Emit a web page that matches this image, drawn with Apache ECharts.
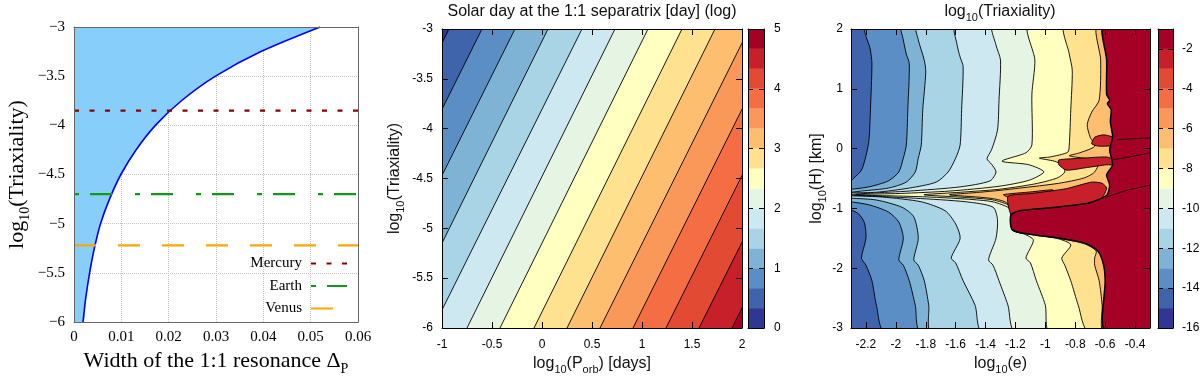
<!DOCTYPE html>
<html>
<head>
<meta charset="utf-8">
<title>Triaxiality and the 1:1 resonance</title>
<script src="https://cdn.jsdelivr.net/npm/echarts@6.0.0/dist/echarts.min.js"></script>
<style>
  html, body { margin: 0; padding: 0; background: #fff; }
  #chart { width: 1200px; height: 380px; }
</style>
</head>
<body>
<div id="chart"></div>
<script>
// left panel: width of the 1:1 resonance against log10(triaxiality)
const resLogTriax = [-6, -5.75, -5.5, -5.25, -5, -4.75, -4.5, -4.25, -4, -3.75, -3.5, -3.25, -3]
const resWidth = [0.0019, 0.0025, 0.0033, 0.0043, 0.0056, 0.0075, 0.0099, 0.0131, 0.0172, 0.0227, 0.0299, 0.0395, 0.052]
const planets = ['Mercury', 'Earth', 'Venus']
const planetLogTriax = [-3.85, -4.7, -5.22]
const planetColors = ['#8b0000', '#119a19', '#ffa500']
const planetDash = [[5, 10.5], [5, 11, 22, 23], [22, 22]]

// middle panel: each contour of the solar day, where it meets log10(Triaxiality) = -6 and = -3
const solarLevels = [0.333, 0.667, 1, 1.333, 1.667, 2, 2.333, 2.667, 3, 3.333, 3.667, 4, 4.333, 4.667]
const solarBottomX = [-2.42, -2.09, -1.76, -1.42, -1.09, -0.75, -0.42, -0.08, 0.25, 0.58, 0.91, 1.24, 1.57, 1.9]
const solarTopX = [-0.93, -0.6, -0.27, 0.06, 0.4, 0.73, 1.06, 1.4, 1.73, 2.07, 2.4, 2.73, 3.07, 3.4]

// right panel: contour lines of log10(Triaxiality), traced from top to bottom
const triaxLevels = [-14, -13, -12, -11, -10, -9, -8, -7, -2]
const triaxContours = [
  [[-2.2,2.07],[-2.17,1.65],[-2.16,1.42],[-2.17,0.65],[-2.18,0.14],[-2.2,-0.12],[-2.23,-0.36],[-2.28,-0.49],[-2.3,-0.54],[-2.34,-0.56],
   [-2.34,-1.04],[-2.3,-1.03],[-2.25,-1.09],[-2.21,-1.24],[-2.2,-1.5],[-2.23,-1.83],[-2.2,-1.95],[-2.16,-2.21],[-2.13,-2.62],[-2.07,-3.07]],
  [[-1.96,2.07],[-1.95,1.82],[-1.93,1.58],[-1.91,1.42],[-1.92,0.65],[-1.93,0.06],[-1.95,-0.16],[-1.98,-0.39],[-2.05,-0.54],[-2.18,-0.64],[-2.3,-0.68],[-2.34,-0.68],
   [-2.34,-0.88],[-2.3,-0.89],[-2.18,-0.94],[-2.05,-1.06],[-1.98,-1.23],[-1.95,-1.5],[-1.98,-1.86],[-1.95,-1.95],[-1.91,-2.21],[-1.87,-2.62],[-1.83,-3.07]],
  [[-1.86,2.07],[-1.85,1.82],[-1.81,1.48],[-1.8,1.28],[-1.82,0.65],[-1.83,0.06],[-1.85,-0.16],[-1.87,-0.39],[-1.93,-0.56],[-2.05,-0.66],[-2.23,-0.71],[-2.3,-0.73],[-2.34,-0.73],
   [-2.34,-0.83],[-2.3,-0.83],[-2.13,-0.86],[-1.96,-0.98],[-1.88,-1.14],[-1.85,-1.5],[-1.88,-1.86],[-1.85,-1.95],[-1.81,-2.21],[-1.78,-2.62],[-1.76,-3.07]],
  [[-1.6,2.07],[-1.59,1.73],[-1.57,1.53],[-1.55,1.37],[-1.56,0.65],[-1.57,0.06],[-1.6,-0.16],[-1.65,-0.39],[-1.73,-0.56],[-1.91,-0.66],[-2.13,-0.73],[-2.3,-0.74],[-2.34,-0.745],
   [-2.34,-0.79],[-2.3,-0.79],[-2.09,-0.81],[-1.83,-0.89],[-1.67,-1.04],[-1.6,-1.26],[-1.57,-1.5],[-1.63,-1.83],[-1.6,-1.91],[-1.55,-2.21],[-1.47,-2.62],[-1.42,-3.07]],
  [[-1.35,2.07],[-1.33,1.73],[-1.3,1.48],[-1.31,0.81],[-1.32,0.31],[-1.36,-0.02],[-1.39,-0.17],[-1.36,-0.26],[-1.33,-0.39],[-1.37,-0.54],[-1.57,-0.64],[-1.91,-0.71],[-2.17,-0.745],[-2.3,-0.765],[-2.34,-0.767],
   [-2.34,-0.775],[-2.3,-0.777],[-1.87,-0.83],[-1.53,-0.89],[-1.35,-0.98],[-1.32,-1.19],[-1.33,-1.5],[-1.38,-1.86],[-1.35,-1.95],[-1.31,-2.21],[-1.25,-2.62],[-1.2,-3.07]],
  [[-1.11,2.07],[-1.07,1.48],[-1.09,0.91],[-1.09,0.06],[-1.13,-0.07],[-1.29,-0.21],[-1.11,-0.27],[-1.01,-0.39],[-1.11,-0.53],[-1.31,-0.63],[-1.64,-0.71],[-1.97,-0.75],[-2.27,-0.768],
   [-2.27,-0.776],[-1.77,-0.81],[-1.37,-0.88],[-1.25,-0.98],[-1.23,-1.06],[-1.22,-1.36],[-1.14,-1.43],[-1.08,-1.53],[-1.13,-1.83],[-1.1,-1.91],[-1.06,-2.21],[-1.0,-2.62],[-0.97,-3.07]],
  [[-0.87,2.07],[-0.84,1.58],[-0.82,1.31],[-0.83,0.65],[-0.84,0.06],[-0.85,-0.06],[-0.97,-0.14],[-1.04,-0.16],[-0.94,-0.21],[-0.89,-0.27],[-0.87,-0.39],[-0.92,-0.49],[-1.07,-0.59],[-1.31,-0.68],[-1.57,-0.73],[-1.81,-0.768],
   [-1.81,-0.776],[-1.37,-0.85],[-1.25,-0.94],[-1.23,-1.04],[-1.22,-1.36],[-1.07,-1.445],[-0.91,-1.51],[-0.83,-1.61],[-0.89,-1.83],[-0.87,-1.95],[-0.83,-2.21],[-0.78,-2.62],[-0.71,-3.07]],
  [[-0.65,2.07],[-0.63,1.48],[-0.64,0.81],[-0.69,0.61],[-0.72,0.4],[-0.7,0.19],[-0.67,0.04],[-0.77,-0.07],[-0.84,-0.12],[-0.74,-0.16],[-0.64,-0.19],[-0.67,-0.39],[-0.74,-0.49],[-0.91,-0.58],[-1.17,-0.66],[-1.31,-0.7],[-1.44,-0.73],[-1.64,-0.768],
   [-1.64,-0.776],[-1.37,-0.83],[-1.27,-0.89],[-1.23,-1.0],[-1.22,-1.36],[-1.07,-1.44],[-0.91,-1.5],[-0.74,-1.59],[-0.66,-1.71],[-0.67,-1.83],[-0.67,-1.95],[-0.64,-2.21],[-0.62,-2.62],[-0.61,-3.07]],
  [[-0.61,2.07],[-0.59,1.48],[-0.59,0.91],[-0.57,0.81],[-0.585,0.75],[-0.56,0.65],[-0.565,0.45],[-0.55,0.19],[-0.57,-0.02],[-0.55,-0.27],[-0.59,-0.44],[-0.57,-0.61],[-0.59,-0.78],[-0.71,-0.91],[-0.97,-0.99],[-1.17,-1.04],[-1.23,-1.11],
   [-1.22,-1.36],[-1.07,-1.445],[-0.91,-1.495],[-0.74,-1.58],[-0.65,-1.71],[-0.61,-1.95],[-0.6,-2.21],[-0.6,-3.07]]
]
// small closed tongues near log10(H) = -0.5
const triaxPatchLevels = [-4, -3, -3, -3]
const triaxPatches = [
  [[-1.28,-0.77],[-1.1,-0.725],[-0.95,-0.69],[-0.96,-0.745],[-1.1,-0.775],[-1.24,-0.82]],
  [[-1.25,-0.8],[-1.09,-0.75],[-0.86,-0.67],[-0.69,-0.56],[-0.62,-0.58],[-0.59,-0.66],[-0.62,-0.82],[-0.75,-0.94],[-0.97,-1.02],[-1.17,-1.07],[-1.23,-1.1]],
  [[-0.91,-0.19],[-0.75,-0.16],[-0.59,-0.14],[-0.54,-0.19],[-0.54,-0.27],[-0.59,-0.27],[-0.73,-0.32],[-0.86,-0.36],[-0.91,-0.27]],
  [[-0.69,0.08],[-0.67,0.19],[-0.61,0.23],[-0.54,0.18],[-0.54,0.06],[-0.64,0.04]]
]
const triaxExtraLines = [
  [[-0.56,-0.19],[-0.44,-0.14],[-0.3,-0.07]],
  [[-0.59,-0.81],[-0.47,-0.71],[-0.3,-0.61]],
  [[-0.52,0.15],[-0.3,0.18]]
]
const triaxBarEdges = [-16, -15, -14, -13, -12, -11, -10, -9, -8, -7, -6, -5, -4, -3, -2, -1]
const eTicks = [-2.2, -2, -1.8, -1.6, -1.4, -1.2, -1, -0.8, -0.6, -0.4]

const palette = ['#313695', '#4064ac', '#5a8ec4', '#7fb3d5', '#a8d4e6', '#cde8f0', '#e6f4e4', '#ffffbf',
  '#fee290', '#fdbf6f', '#f99858', '#f46d43', '#e34a33', '#c8202a', '#a50026']

const serif = 'Liberation Serif'
const sans = 'Liberation Sans'

function box(x0, x1, y0, y1) {
  return [[x0, y0], [x1, y0], [x1, y1], [x0, y1]]
}

// middle panel regions, painted from the lowest level up
const solarRegions = [{ pts: box(-1, 2, -6, -3), fill: palette[0], width: 0 }]
solarLevels.forEach((lv, k) => {
  const b = solarBottomX[k], t = solarTopX[k], d = (t - b) / 3
  solarRegions.push({ pts: [[b - 0.5 * d, -6.5], [t + 0.5 * d, -2.5], [4, -2.5], [4, -6.5]], fill: palette[k + 1], width: 0.9 })
})
const solarBarEdges = [0].concat(solarLevels, [5])
const solarBar = solarBarEdges.slice(0, -1).map((lo, k) => ({ pts: box(0, 1, lo, solarBarEdges[k + 1]), fill: palette[k], width: 0 }))

// right panel regions
let triaxRegions = []
triaxContours.forEach((line, k) => {
  triaxRegions.push({ level: triaxLevels[k], pts: line.concat([[-0.24, -3.07], [-0.24, 2.07]]), smooth: 0.25 })
})
triaxPatches.forEach((p, k) => triaxRegions.push({ level: triaxPatchLevels[k], pts: p, smooth: 0.2 }))
triaxRegions.sort((a, b) => a.level - b.level)
triaxRegions = triaxRegions.map(r => ({ pts: r.pts, smooth: r.smooth, fill: palette[r.level + 16], width: r.level === -2 ? 1.5 : 0.9 }))
triaxRegions.unshift({ pts: box(-2.3, -0.3, -3, 2), fill: palette[1], width: 0 })
triaxExtraLines.forEach(l => triaxRegions.push({ pts: l, fill: null, width: 0.8 }))
const triaxBar = triaxBarEdges.slice(0, -1).map((lo, k) => ({ pts: box(0, 1, lo, triaxBarEdges[k + 1]), fill: palette[k], width: 0 }))

function regionSeries(xi, yi, regions) {
  return {
    type: 'custom',
    xAxisIndex: xi,
    yAxisIndex: yi,
    clip: true,
    silent: true,
    z: 2,
    data: regions.map((r, i) => [i, 0]),
    renderItem: function (params, api) {
      const r = regions[params.dataIndex]
      const pts = r.pts.map(p => api.coord(p))
      if (r.fill === null) {
        return { type: 'polyline', shape: { points: pts, smooth: 0.3 }, style: { stroke: '#000', fill: null, lineWidth: r.width } }
      }
      return {
        type: 'polygon',
        shape: { points: pts, smooth: r.smooth || 0 },
        style: { fill: r.fill, stroke: r.width ? '#000' : null, lineWidth: r.width }
      }
    }
  }
}

const tickStyle = { show: true, inside: true, length: 6, lineStyle: { color: '#000', width: 1 } }
const sansLabel = { show: true, fontFamily: sans, fontSize: 12, color: '#000' }

function frameAxis(gridIndex, position, min, max, extra) {
  return Object.assign({
    gridIndex: gridIndex,
    position: position,
    type: 'value',
    min: min,
    max: max,
    z: 5,
    axisLine: { show: true, onZero: false, lineStyle: { color: '#000', width: 1 } },
    axisTick: { show: false },
    axisLabel: { show: false },
    splitLine: { show: false }
  }, extra || {})
}

const serifName = {
  rich: {
    a: { fontFamily: serif, fontSize: 22, lineHeight: 30, color: '#000', fontWeight: 'normal' },
    s: { fontFamily: serif, fontSize: 14, lineHeight: 14, verticalAlign: 'bottom', color: '#000', fontWeight: 'normal' }
  }
}
const sansName = {
  fontWeight: 'normal',
  rich: {
    a: { fontFamily: sans, fontSize: 16, lineHeight: 22, color: '#111', fontWeight: 'normal' },
    s: { fontFamily: sans, fontSize: 11, lineHeight: 11, verticalAlign: 'bottom', color: '#111', fontWeight: 'normal' }
  }
}
const grayLine = { show: true, onZero: false, lineStyle: { color: '#666', width: 1 } }

const chart = echarts.init(document.getElementById('chart'))

chart.setOption({
  animation: false,
  backgroundColor: '#fff',
  title: [
    {
      text: 'Solar day at the 1:1 separatrix [day] (log)',
      left: 592, top: 4, textAlign: 'center', padding: 0,
      textStyle: { fontFamily: sans, fontSize: 16, fontWeight: 'normal', color: '#111' }
    },
    {
      text: '{a|log}{s|10}{a|(Triaxiality)}',
      left: 1000, top: 1, textAlign: 'center', padding: 0,
      textStyle: sansName
    }
  ],
  legend: {
    data: planets,
    orient: 'vertical',
    right: 852,
    top: 256,
    align: 'right',
    padding: 0,
    itemWidth: 36,
    itemHeight: 14,
    itemGap: 7.5,
    selectedMode: false,
    itemStyle: { opacity: 0 },
    textStyle: { fontFamily: serif, fontSize: 15, color: '#000', padding: [0, 4, 0, 0] }
  },
  grid: [
    { left: 74, top: 27, width: 284, height: 295, outerBoundsMode: 'none' },
    { left: 442, top: 29, width: 300, height: 299, outerBoundsMode: 'none' },
    { left: 748, top: 29, width: 16, height: 299, outerBoundsMode: 'none' },
    { left: 851, top: 29, width: 299, height: 299, outerBoundsMode: 'none' },
    { left: 1158, top: 29, width: 15, height: 299, outerBoundsMode: 'none' }
  ],
  xAxis: [
    frameAxis(0, 'bottom', 0, 0.06, {
      interval: 0.01,
      axisLine: grayLine,
      axisLabel: { show: true, fontFamily: serif, fontSize: 15, color: '#000', margin: 8 },
      name: '{a|Width of the 1:1 resonance Δ}{s|P}',
      nameLocation: 'middle',
      nameGap: 20,
      nameTextStyle: serifName
    }),
    frameAxis(0, 'top', 0, 0.06, { axisLine: grayLine }),
    frameAxis(0, 'top', 0, 0.06, {
      z: 0, interval: 0.01, axisLine: { show: false },
      splitLine: { show: true, lineStyle: { type: 'dotted', color: '#c4c4c4', width: 1 } }
    }),
    frameAxis(1, 'bottom', -1, 2, {
      interval: 0.5, axisTick: tickStyle,
      axisLabel: Object.assign({}, sansLabel, { margin: 11 }),
      name: '{a|log}{s|10}{a|(P}{s|orb}{a|) [days]}',
      nameLocation: 'middle', nameGap: 25, nameTextStyle: sansName
    }),
    frameAxis(1, 'top', -1, 2, { interval: 0.5, axisTick: tickStyle }),
    frameAxis(2, 'bottom', 0, 1),
    frameAxis(2, 'top', 0, 1),
    frameAxis(3, 'bottom', -2.3, -0.3, {
      axisTick: Object.assign({}, tickStyle, { customValues: eTicks }),
      axisLabel: Object.assign({}, sansLabel, { margin: 11, customValues: eTicks }),
      name: '{a|log}{s|10}{a|(e)}',
      nameLocation: 'middle', nameGap: 25, nameTextStyle: sansName
    }),
    frameAxis(3, 'top', -2.3, -0.3, { axisTick: Object.assign({}, tickStyle, { customValues: eTicks }) }),
    frameAxis(4, 'bottom', 0, 1),
    frameAxis(4, 'top', 0, 1)
  ],
  yAxis: [
    frameAxis(0, 'left', -6, -3, {
      interval: 0.5,
      axisLine: grayLine,
      axisLabel: {
        show: true, fontFamily: serif, fontSize: 15, color: '#000', margin: 9,
        formatter: v => String(v).replace('-', '\u2212')
      },
      name: '{a|log}{s|10}{a|(Triaxiality)}',
      nameLocation: 'middle',
      nameGap: 42,
      nameTextStyle: serifName
    }),
    frameAxis(0, 'right', -6, -3, { axisLine: grayLine }),
    frameAxis(0, 'right', -6, -3, {
      z: 0, interval: 0.5, axisLine: { show: false },
      splitLine: { show: true, lineStyle: { type: 'dotted', color: '#c4c4c4', width: 1 } }
    }),
    frameAxis(1, 'left', -6, -3, {
      interval: 0.5, axisTick: tickStyle,
      axisLabel: Object.assign({}, sansLabel, { margin: 9 }),
      name: '{a|log}{s|10}{a|(Triaxiality)}',
      nameLocation: 'middle', nameGap: 36, nameTextStyle: sansName
    }),
    frameAxis(1, 'right', -6, -3, { interval: 0.5, axisTick: tickStyle }),
    frameAxis(2, 'right', 0, 5, {
      interval: 1,
      axisTick: Object.assign({}, tickStyle, { length: 5 }),
      axisLabel: Object.assign({}, sansLabel, { margin: 10 })
    }),
    frameAxis(2, 'left', 0, 5, { interval: 1, axisTick: Object.assign({}, tickStyle, { length: 5 }) }),
    frameAxis(3, 'left', -3, 2, {
      interval: 1, axisTick: tickStyle,
      axisLabel: Object.assign({}, sansLabel, { margin: 8 }),
      name: '{a|log}{s|10}{a|(H) [km]}',
      nameLocation: 'middle', nameGap: 23, nameTextStyle: sansName
    }),
    frameAxis(3, 'right', -3, 2, { interval: 1, axisTick: tickStyle }),
    frameAxis(4, 'right', -16, -1, {
      interval: 2,
      axisTick: Object.assign({}, tickStyle, { length: 5 }),
      axisLabel: Object.assign({}, sansLabel, { margin: 9, showMaxLabel: false })
    }),
    frameAxis(4, 'left', -16, -1, { interval: 2, axisTick: Object.assign({}, tickStyle, { length: 5 }) })
  ],
  series: [
    {
      type: 'line',
      xAxisIndex: 0, yAxisIndex: 0,
      data: [[0, -6]].concat(resWidth.map((w, i) => [w, resLogTriax[i]])),
      smooth: 0.3,
      symbol: 'none',
      silent: true,
      lineStyle: { width: 0 },
      areaStyle: { color: '#87cefa', opacity: 1, origin: 'end' },
      z: 1
    },
    {
      type: 'line',
      xAxisIndex: 0, yAxisIndex: 0,
      data: resWidth.map((w, i) => [w, resLogTriax[i]]),
      smooth: 0.3,
      symbol: 'none',
      silent: true,
      lineStyle: { color: '#0000ff', width: 1.6 },
      z: 3
    }
  ].concat(planets.map((p, i) => ({
    name: p,
    type: 'line',
    xAxisIndex: 0, yAxisIndex: 0,
    data: [[0, planetLogTriax[i]], [0.06, planetLogTriax[i]]],
    symbol: 'none',
    silent: true,
    itemStyle: { color: planetColors[i] },
    lineStyle: { color: planetColors[i], width: 2.2, type: planetDash[i] },
    z: 4
  }))).concat([
    regionSeries(3, 3, solarRegions),
    regionSeries(5, 5, solarBar),
    regionSeries(7, 7, triaxRegions),
    regionSeries(9, 9, triaxBar)
  ])
})
</script>
</body>
</html>
